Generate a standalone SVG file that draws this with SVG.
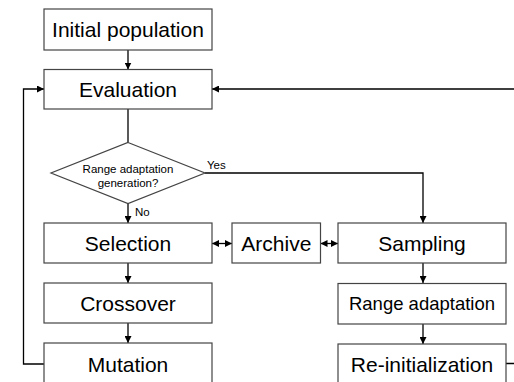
<svg xmlns="http://www.w3.org/2000/svg" width="514" height="382" viewBox="0 0 514 382">
<defs>
<marker id="ah" viewBox="0 0 10 10" refX="10" refY="5" markerWidth="7" markerHeight="7" markerUnits="userSpaceOnUse" orient="auto-start-reverse">
<path d="M0,0 L10,5 L0,10 z" fill="#000"/>
</marker>
<style>
.box{fill:#fff;stroke:#444;stroke-width:1.2}
.t{font-family:"Liberation Sans",Arial,sans-serif;font-size:21px;fill:#000;text-anchor:middle}
.tm{font-size:18.5px}
.s{font-family:"Liberation Sans",Arial,sans-serif;font-size:11.5px;fill:#000}
.c{fill:none;stroke:#000;stroke-width:1.3}
</style>
</defs>
<rect width="514" height="382" fill="#fff"/>
<g id="connectors">
<line class="c" x1="128" y1="50" x2="128" y2="69.5" marker-end="url(#ah)"/>
<line class="c" x1="128" y1="109" x2="128" y2="142.5"/>
<line class="c" x1="128" y1="203.5" x2="128" y2="223" marker-end="url(#ah)"/>
<polyline class="c" points="205,173 423,173 423,223" marker-end="url(#ah)"/>
<line class="c" x1="212" y1="243.5" x2="232" y2="243.5" marker-start="url(#ah)" marker-end="url(#ah)"/>
<line class="c" x1="320.5" y1="243.5" x2="338" y2="243.5" marker-start="url(#ah)" marker-end="url(#ah)"/>
<line class="c" x1="128" y1="263" x2="128" y2="283" marker-end="url(#ah)"/>
<line class="c" x1="128" y1="323" x2="128" y2="343" marker-end="url(#ah)"/>
<line class="c" x1="423" y1="263" x2="423" y2="283" marker-end="url(#ah)"/>
<line class="c" x1="423" y1="324" x2="423" y2="344" marker-end="url(#ah)"/>
<polyline class="c" points="44,364 23.5,364 23.5,89 44,89" marker-end="url(#ah)"/>
<polyline class="c" points="506,363.5 530,363.5 530,89 212,89" marker-end="url(#ah)"/>
</g>
<g id="initial">
<rect class="box" x="44" y="9" width="168" height="41"/>
<text class="t" x="128" y="37">Initial population</text>
</g>
<g id="evaluation">
<rect class="box" x="44" y="69.5" width="168" height="39.5"/>
<text class="t" x="128" y="96.5">Evaluation</text>
</g>
<g id="decision">
<polygon class="box" points="128,142.5 205,173 128,203.5 51,173"/>
<text class="s" x="128" y="172.5" text-anchor="middle">Range adaptation</text>
<text class="s" x="128" y="186.5" text-anchor="middle">generation?</text>
<text class="s" x="207" y="169">Yes</text>
<text class="s" x="135" y="216">No</text>
</g>
<g id="selection">
<rect class="box" x="44" y="223" width="168" height="40"/>
<text class="t" x="128" y="250.5">Selection</text>
</g>
<g id="archive">
<rect class="box" x="232" y="223" width="88.5" height="40"/>
<text class="t" x="276.3" y="250.5">Archive</text>
</g>
<g id="sampling">
<rect class="box" x="338" y="223" width="168" height="40"/>
<text class="t" x="422" y="250.5">Sampling</text>
</g>
<g id="crossover">
<rect class="box" x="44" y="283" width="168" height="40"/>
<text class="t" x="128" y="310.5">Crossover</text>
</g>
<g id="rangeadapt">
<rect class="box" x="338" y="283.5" width="168" height="40.5"/>
<text class="t tm" x="422" y="310">Range adaptation</text>
</g>
<g id="mutation">
<rect class="box" x="44" y="343" width="168" height="42"/>
<text class="t" x="128" y="371.5">Mutation</text>
</g>
<g id="reinit">
<rect class="box" x="338" y="344" width="168" height="42"/>
<text class="t" x="422" y="371.5">Re-initialization</text>
</g>
</svg>
